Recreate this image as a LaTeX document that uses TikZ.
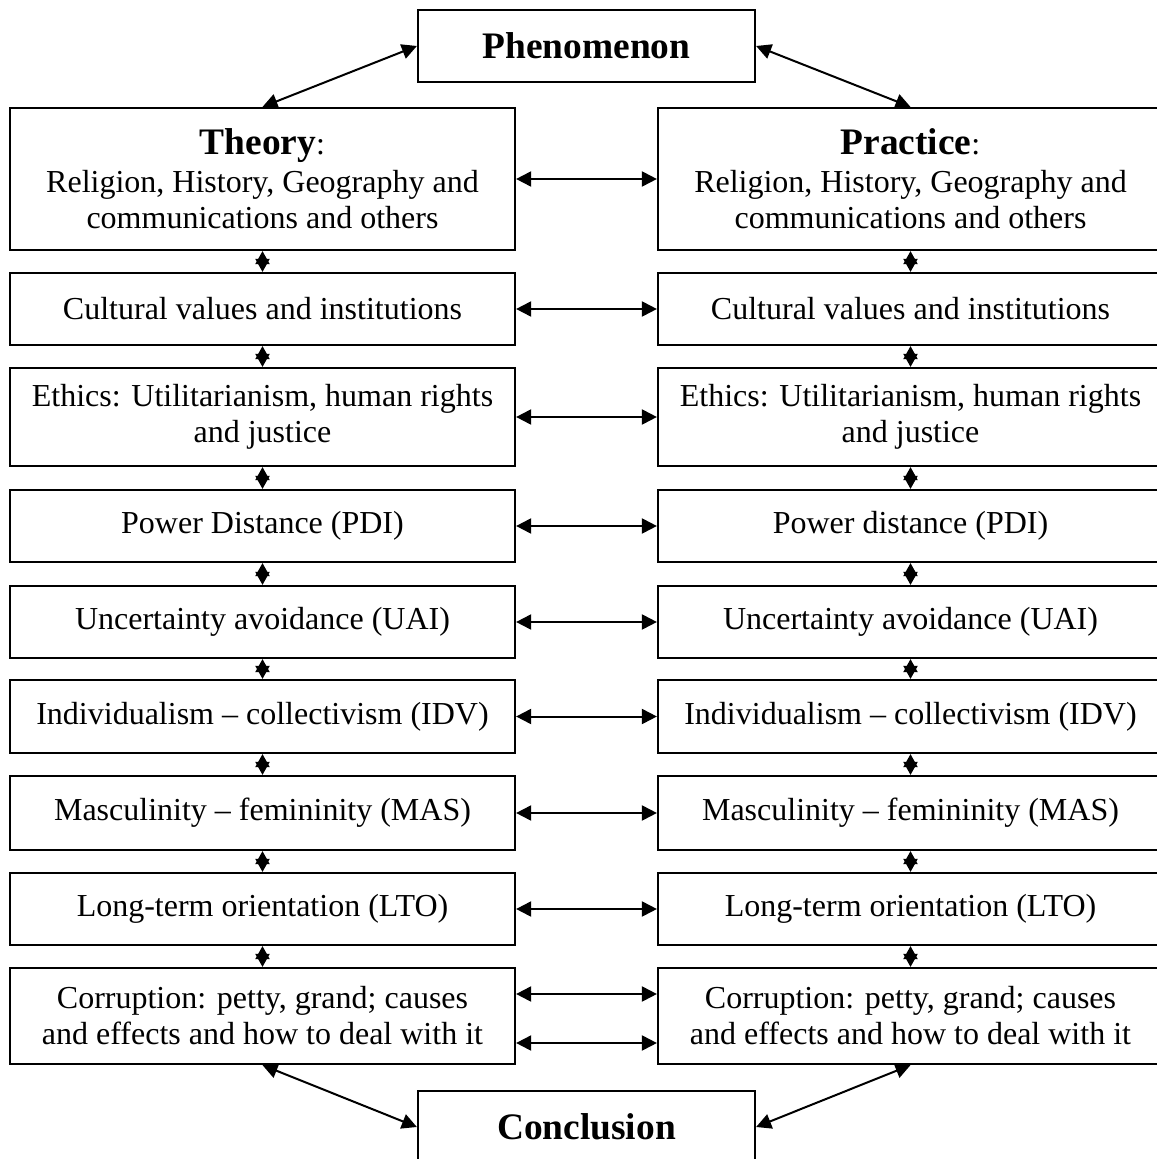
\documentclass[tikz,border=0pt]{standalone}
\usepackage{fontspec}
\setmainfont{Liberation Serif}
\usetikzlibrary{arrows.meta}
\begin{document}
\begin{tikzpicture}[x=0.5pt,y=-0.5pt,
  box/.style={draw, line width=1.1pt, inner sep=0pt, align=center,
    minimum width=252.5pt, font=\fontsize{16}{18}\selectfont},
  topbox/.style={draw, line width=1.1pt, inner sep=0pt, align=center,
    minimum width=168.5pt, minimum height=36pt, font=\fontsize{18.7}{22}\selectfont\bfseries},
  link/.style={line width=1pt, {Triangle[length=7.5pt,width=7.5pt]}-{Triangle[length=7.5pt,width=7.5pt]}},
  vlink/.style={line width=1pt, {Triangle[length=6.5pt,width=7pt]}-{Triangle[length=6.5pt,width=7pt]}}
]
\useasboundingbox (0,0) rectangle (1156,1159);

% top and bottom
\node[topbox] (phen) at (586.5,46) {Phenomenon};
\node[topbox] (concl) at (586.5,1127) {Conclusion};

% left column
\node[box, minimum height=71pt] (lth) at (262.5,179) {{\fontsize{18.7}{22}\selectfont\bfseries Theory}:\\[1pt] Religion, History, Geography and\\ communications and others};
\node[box, minimum height=36pt] (lcu) at (262.5,309) {Cultural values and institutions};
\node[box, minimum height=49pt] (let) at (262.5,417) {Ethics: Utilitarianism, human rights\\ and justice};
\node[box, minimum height=36pt] (lpd) at (262.5,526) {Power Distance (PDI)};
\node[box, minimum height=36pt] (lua) at (262.5,622) {Uncertainty avoidance (UAI)};
\node[box, minimum height=36.5pt] (lid) at (262.5,716.5) {Individualism -- collectivism (IDV)};
\node[box, minimum height=37pt] (lma) at (262.5,813) {Masculinity -- femininity (MAS)};
\node[box, minimum height=36pt] (llt) at (262.5,909) {Long-term orientation (LTO)};
\node[box, minimum height=48pt] (lco) at (262.5,1016) {Corruption: petty, grand; causes\\ and effects and how to deal with it};

% right column
\node[box, minimum height=71pt] (rth) at (910.5,179) {{\fontsize{18.7}{22}\selectfont\bfseries Practice}:\\[1pt] Religion, History, Geography and\\ communications and others};
\node[box, minimum height=36pt] (rcu) at (910.5,309) {Cultural values and institutions};
\node[box, minimum height=49pt] (ret) at (910.5,417) {Ethics: Utilitarianism, human rights\\ and justice};
\node[box, minimum height=36pt] (rpd) at (910.5,526) {Power distance (PDI)};
\node[box, minimum height=36pt] (rua) at (910.5,622) {Uncertainty avoidance (UAI)};
\node[box, minimum height=36.5pt] (rid) at (910.5,716.5) {Individualism -- collectivism (IDV)};
\node[box, minimum height=37pt] (rma) at (910.5,813) {Masculinity -- femininity (MAS)};
\node[box, minimum height=36pt] (rlt) at (910.5,909) {Long-term orientation (LTO)};
\node[box, minimum height=48pt] (rco) at (910.5,1016) {Corruption: petty, grand; causes\\ and effects and how to deal with it};

% diagonal links
\draw[link] (phen.west) -- (lth.north);
\draw[link] (phen.east) -- (rth.north);
\draw[link] (lco.south) -- (concl.west);
\draw[link] (concl.east) -- (rco.south);

% horizontal links
\foreach \a/\b in {lth/rth, lcu/rcu, let/ret, lpd/rpd, lua/rua, lid/rid, lma/rma, llt/rlt}
  \draw[link] (\a.east) -- (\b.west);
\draw[link] ([yshift=11pt]lco.east) -- ([yshift=11pt]rco.west);
\draw[link] ([yshift=-13.5pt]lco.east) -- ([yshift=-13.5pt]rco.west);

% vertical links
\foreach \a/\b in {lth/lcu, lcu/let, let/lpd, lpd/lua, lua/lid, lid/lma, lma/llt, llt/lco,
                   rth/rcu, rcu/ret, ret/rpd, rpd/rua, rua/rid, rid/rma, rma/rlt, rlt/rco}
  \draw[vlink] (\a.south) -- (\b.north);
\end{tikzpicture}
\end{document}
